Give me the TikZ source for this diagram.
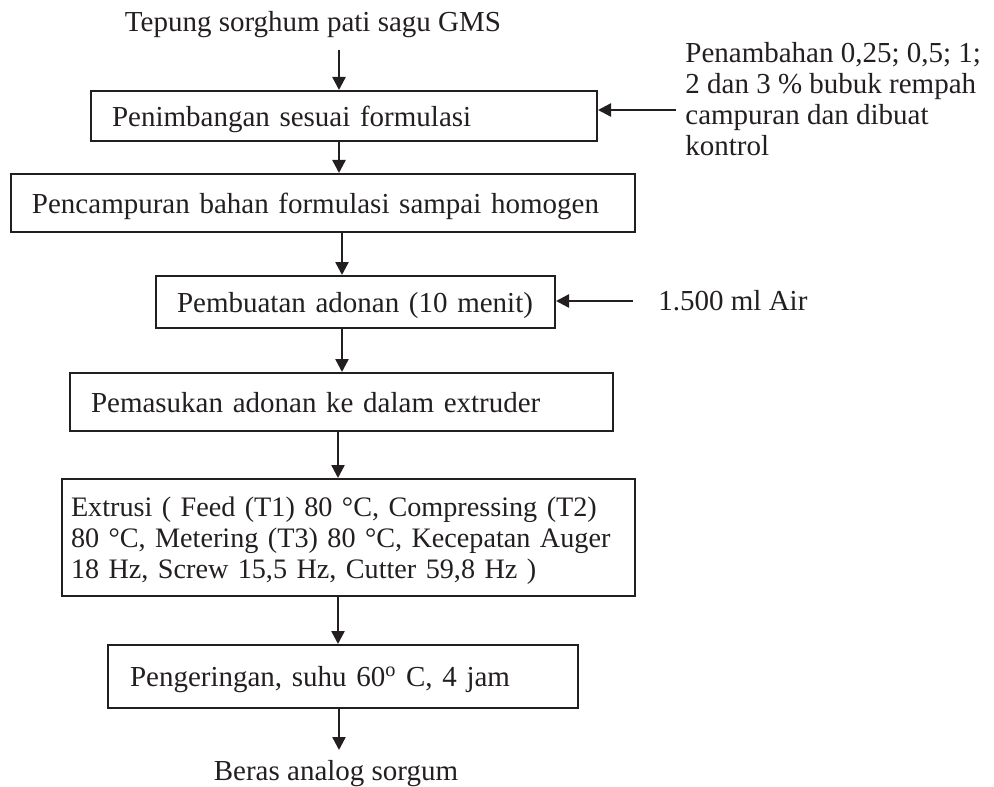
\documentclass[tikz,border=0pt]{standalone}
\usepackage{fontspec}
\setmainfont{Liberation Serif}
\usepackage{xcolor}
\usetikzlibrary{positioning,arrows.meta}
\definecolor{ink}{HTML}{231F20}

\begin{document}
\begin{tikzpicture}[
  x=0.5pt, y=-0.5pt,
  font=\fontsize{14.5pt}{15.5pt}\selectfont,
  proc/.style={draw=ink, line width=1pt, align=left, inner xsep=10.5pt, inner ysep=0pt, text depth=0pt, text=ink},
  lbl/.style={inner sep=0pt, text=ink, align=left},
  arr/.style={-{Triangle[length=6.5pt, width=6.5pt]}, line width=1.2pt, draw=ink}
]
\useasboundingbox (0,0) rectangle (994,786);
% input and output
\node[lbl, anchor=base] (src) at (313,32) {Tepung sorghum pati sagu GMS};
\node[lbl, anchor=base] (rice) at (336,780) {Beras analog sorgum};
% process boxes
\node[proc, text width=232pt, minimum height=25pt] (weigh) at (344,116) {Penimbangan sesuai formulasi};
\node[proc, text width=291pt, minimum height=29pt] (mix) at (323,203) {Pencampuran bahan formulasi sampai homogen};
\node[proc, text width=178.5pt, minimum height=26pt] (dough) at (355.5,302) {Pembuatan adonan (10 menit)};
\node[proc, text width=250.5pt, minimum height=29pt] (feed) at (341.5,402) {Pemasukan adonan ke dalam extruder};
\node[proc, text width=277.5pt, inner xsep=4.5pt, minimum height=58.5pt, text depth=31pt,
  font=\fontsize{14.1pt}{15.5pt}\selectfont] (extr) at (348.5,537.5)
  {Extrusi ( Feed (T1) 80 °C, Compressing (T2)\\80 °C, Metering (T3) 80 °C, Kecepatan Auger\\18 Hz, Screw 15,5 Hz, Cutter 59,8 Hz )};
\node[proc, text width=213pt, inner xsep=11pt, minimum height=31.5pt] (dry) at (343,676.5)
  {Pengeringan, suhu 60\textsuperscript{o} C, 4 jam};
% side inputs
\node[lbl, anchor=north west] (spice) at (685,42)
  {Penambahan 0,25; 0,5; 1;\\2 dan 3 \% bubuk rempah\\campuran dan dibuat\\kontrol};
\node[lbl, anchor=base west] (water) at (658,310) {1.500 ml Air};
\coordinate (spicein) at (676,110);
\coordinate (waterin) at (633,301);
\draw[arr] (spicein) -- (weigh.east |- spicein);
\draw[arr] (waterin) -- (dough.east |- waterin);
% main flow
\coordinate (top) at (339,0);
\draw[arr] ([yshift=-5.5pt]src.south -| top) -- (weigh.north -| top);
\foreach \a/\b/\c in {weigh/mix/339, mix/dough/342, dough/feed/342, feed/extr/338, extr/dry/338}{
  \coordinate (c) at (\c,0);
  \draw[arr] (\a.south -| c) -- (\b.north -| c);
}
\coordinate (outtip) at (339,750);
\draw[arr] (dry.south -| outtip) -- (outtip);
\end{tikzpicture}
\end{document}
